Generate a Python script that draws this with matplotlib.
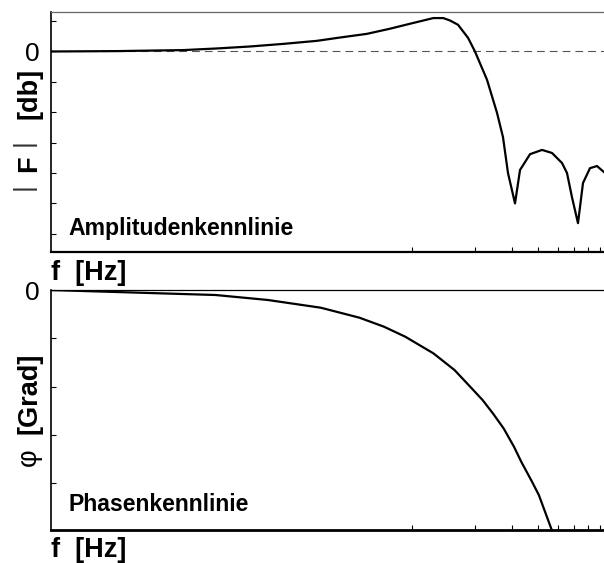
import matplotlib.pyplot as plt
from matplotlib.ticker import NullLocator, NullFormatter

plt.rcParams['font.family'] = ['Liberation Sans', 'DejaVu Sans']

# Amplitude response (dB) over frequency (Hz)
amp_freq = [18, 38, 79, 115, 166, 239, 347, 449, 604, 781, 1011, 1262, 1409,
            1518, 1658, 1853, 2001, 2286, 2554, 2729, 2884, 3117, 3295, 3681,
            4204, 4694, 5245, 5543, 5859, 6260, 6617, 7151, 7726, 8350]
amp_db = [0.0, 0.13, 0.46, 1.0, 1.65, 2.5, 3.5, 4.6, 5.8, 7.5, 9.4, 11.0,
          11.0, 10.2, 8.8, 4.5, 0.0, -9.3, -20.2, -28.2, -40.0, -50.0, -39.0,
          -33.8, -32.4, -33.4, -36.7, -40.0, -48.0, -56.5, -43.3, -38.4,
          -37.7, -39.7]

# Phase response (degrees)
phase_freq = [18, 113, 202, 363, 557, 731, 925, 1263, 1595, 1865, 2178, 2443,
              2751, 3083, 3342, 3763, 4061, 4653, 4910]
phase_deg = [0, -9.3, -18.6, -33, -51.6, -68.4, -87, -118, -149, -177, -205,
             -230, -258, -292, -320, -357, -382, -444, -470]

xticks = [1000, 2000, 3000, 4000, 5000, 6000, 7000, 8000]
xlim = (18.3, 8350)

fig = plt.figure(figsize=(6.04, 5.63), dpi=100)
ax1 = fig.add_axes([51 / 604, 1 - 252 / 563, 553 / 604, 240 / 563])
ax2 = fig.add_axes([51 / 604, 1 - 529.5 / 563, 553 / 604, 239.5 / 563])


def style_axes(ax, top_color, bottom_lw):
    ax.set_xscale('log')
    ax.set_xlim(*xlim)
    ax.set_xticks(xticks)
    ax.xaxis.set_minor_locator(NullLocator())
    ax.xaxis.set_major_formatter(NullFormatter())
    ax.spines['right'].set_visible(False)
    ax.spines['top'].set_color(top_color)
    ax.spines['top'].set_linewidth(0.9)
    ax.spines['left'].set_linewidth(1.2)
    ax.spines['bottom'].set_linewidth(bottom_lw)
    ax.tick_params(direction='in', length=3.5, width=0.8, color='black',
                   labelsize=19, pad=8)


# Amplitude plot
ax1.plot(amp_freq, amp_db, color='black', lw=1.6)
ax1.axhline(0, color='#555555', lw=0.8, ls=(0, (7, 4.5)), zorder=0)
style_axes(ax1, '#666666', 1.6)
ax1.set_ylim(-66, 13)
ax1.set_yticks([10, 0, -10, -20, -30, -40, -50, -60])
ax1.set_yticklabels(['', '0', '', '', '', '', '', ''])
ax1.text((68 - 51) / 553, 1 - (235 - 12) / 240, 'Amplitudenkennlinie',
         transform=ax1.transAxes, fontsize=16.6, fontweight='bold',
         va='baseline', ha='left')

# Phase plot
ax2.plot(phase_freq, phase_deg, color='black', lw=1.6)
style_axes(ax2, 'black', 2.0)
ax2.set_ylim(-446, 0)
ax2.set_yticks([0, -90, -180, -270, -360])
ax2.set_yticklabels(['0', '', '', '', ''])
ax2.text((68 - 51) / 553, 1 - (511 - 290) / 239.5, 'Phasenkennlinie',
         transform=ax2.transAxes, fontsize=16.6, fontweight='bold',
         va='baseline', ha='left')

# Axis titles
fig.text(51 / 604, 1 - 280 / 563, 'f  [Hz]', fontsize=19.5,
         fontweight='bold', va='baseline', ha='left')
fig.text(51 / 604, 1 - 557 / 563, 'f  [Hz]', fontsize=19.5,
         fontweight='bold', va='baseline', ha='left')

fig.text(29 / 604, 1 - 93 / 563, '[db]', fontsize=19.5, fontweight='bold',
         rotation=90, ha='center', va='center')
fig.text(29 / 604, 1 - 164 / 563, 'F', fontsize=19.5, fontweight='bold',
         rotation=90, ha='center', va='center')
for ypx in (143, 187):
    fig.text(24 / 604, 1 - ypx / 563, '|', fontsize=19, color='#333333',
             rotation=90, ha='center', va='center')

fig.text(29 / 604, 1 - 393 / 563, '[Grad]', fontsize=19.5,
         fontweight='bold', rotation=90, ha='center', va='center')
fig.text(29 / 604, 1 - 457 / 563, 'φ', fontsize=19.5, rotation=90,
         ha='center', va='center')

fig.savefig('out.png', dpi=100)
